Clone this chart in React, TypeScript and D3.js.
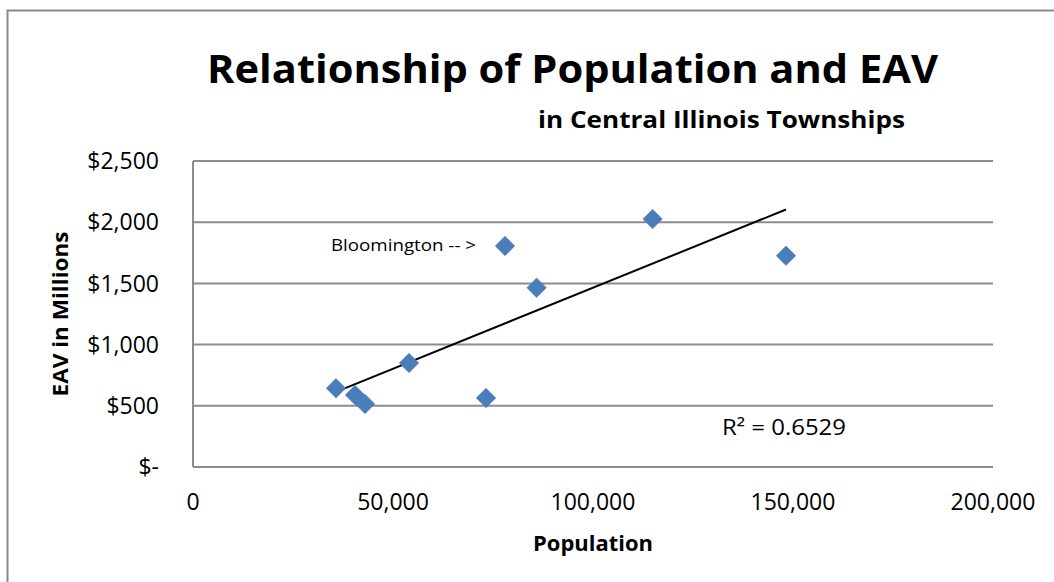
import React from "react";
import * as d3 from "d3";

const population = [35750, 40500, 43000, 54000, 73250, 78000, 85900, 114900, 148250];
const eavMillions = [643, 588, 515, 850, 564, 1806, 1465, 2026, 1726];
const xTicks = [0, 50000, 100000, 150000, 200000];
const yTicks = [0, 500, 1000, 1500, 2000, 2500];

const W = 1054;
const H = 582;
const FONT = "'Open Sans', 'Noto Sans', sans-serif";

export default function App() {
  const x = d3.scaleLinear().domain([0, 200000]).range([193, 993]);
  const y = d3.scaleLinear().domain([0, 2500]).range([467, 161]);

  const n = population.length;
  const mx = d3.mean(population)!;
  const my = d3.mean(eavMillions)!;
  let sxy = 0, sxx = 0;
  for (let i = 0; i < n; i++) {
    sxy += (population[i] - mx) * (eavMillions[i] - my);
    sxx += (population[i] - mx) ** 2;
  }
  const slope = sxy / sxx;
  const intercept = my - slope * mx;
  const xMin = d3.min(population)!;
  const xMax = d3.max(population)!;
  const trend = d3.line<number>()
    .x((d) => x(d))
    .y((d) => y(slope * d + intercept))([xMin, xMax]);

  const diamond = d3.symbol().type(d3.symbolSquare).size(190)();
  const yFmt = (v: number) => (v === 0 ? "$-" : "$" + d3.format(",")(v));
  const xFmt = (v: number) => (v === 0 ? "0" : d3.format(",")(v));

  return (
    <div style={{ position: "absolute", left: 0, top: 0 }}>
      <svg width={W} height={H} style={{ display: "block", background: "#fff" }}>
        <rect x={7.5} y={10.5} width={W + 10} height={H + 10} fill="#fff" stroke="#8a8a8a" strokeWidth={2} />
        {yTicks.map((t) => (
          <line key={"g" + t} x1={x(0)} x2={x(200000)} y1={y(t)} y2={y(t)} stroke="#8c8c8c" strokeWidth={2} />
        ))}
        <line x1={x(0)} x2={x(0)} y1={y(2500)} y2={y(0)} stroke="#8c8c8c" strokeWidth={2} />
        {yTicks.map((t) => (
          <text key={"yl" + t} x={159} y={y(t)} dy="0.36em" textAnchor="end" fontFamily={FONT} fontSize={23} fill="#000">
            {yFmt(t)}
          </text>
        ))}
        {xTicks.map((t) => (
          <text key={"xl" + t} x={x(t)} y={510} textAnchor="middle" fontFamily={FONT} fontSize={23} fill="#000">
            {xFmt(t)}
          </text>
        ))}
        <path d={trend!} fill="none" stroke="#000" strokeWidth={2} />
        {population.map((p, i) => (
          <path
            key={"pt" + i}
            d={diamond!}
            transform={`translate(${x(p)},${y(eavMillions[i])}) rotate(45)`}
            fill="#4a7ebb"
            stroke="#4576b4"
            strokeWidth={0.5}
          />
        ))}
        <text x={572.5} y={83} textAnchor="middle" fontFamily={FONT} fontWeight="bold" fontSize={40} textLength={731} lengthAdjust="spacingAndGlyphs" fill="#000">
          Relationship of Population and EAV
        </text>
        <text x={538} y={128} fontFamily={FONT} fontWeight="bold" fontSize={23} textLength={367} lengthAdjust="spacingAndGlyphs" fill="#000">
          in Central Illinois Townships
        </text>
        <text x={593} y={551} textAnchor="middle" fontFamily={FONT} fontWeight="bold" fontSize={21} textLength={120} lengthAdjust="spacingAndGlyphs" fill="#000">
          Population
        </text>
        <text transform="translate(68,314) rotate(-90)" textAnchor="middle" fontFamily={FONT} fontWeight="bold" fontSize={21} textLength={165} lengthAdjust="spacingAndGlyphs" fill="#000">
          EAV in Millions
        </text>
        <text x={331} y={251} fontFamily={FONT} fontSize={17} textLength={145} lengthAdjust="spacingAndGlyphs" fill="#000">
          Bloomington -- &gt;
        </text>
        <text x={722} y={435} fontFamily={FONT} fontSize={22} textLength={124} lengthAdjust="spacingAndGlyphs" fill="#000">
          R² = 0.6529
        </text>
      </svg>
    </div>
  );
}
